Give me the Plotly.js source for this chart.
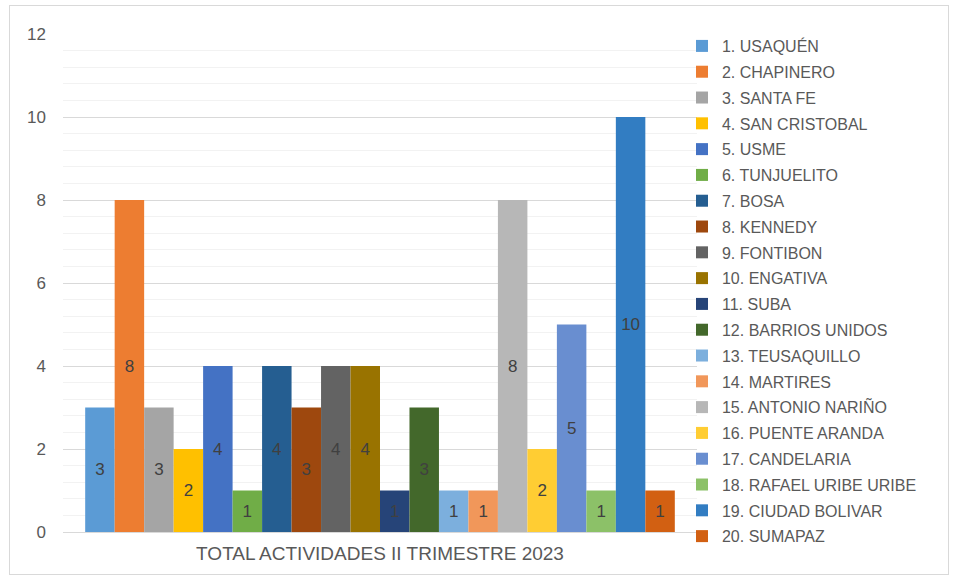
<!DOCTYPE html>
<html><head><meta charset="utf-8">
<script src="https://cdn.plot.ly/plotly-3.0.1.min.js"></script>
<style>
html,body{margin:0;padding:0;background:#fff;}
#frame{position:absolute;left:9px;top:5px;width:938px;height:568px;border:1px solid #d9d9d9;}
#chart{position:absolute;left:0;top:0;width:956px;height:578px;}
</style></head><body>
<div id="frame"></div>
<div id="chart"></div>
<script>
const category = ["TOTAL ACTIVIDADES II TRIMESTRE 2023"];
const localidades = ["1. USAQUÉN","2. CHAPINERO","3. SANTA FE","4. SAN CRISTOBAL","5. USME","6. TUNJUELITO","7. BOSA","8. KENNEDY","9. FONTIBON","10. ENGATIVA","11. SUBA","12. BARRIOS UNIDOS","13. TEUSAQUILLO","14. MARTIRES","15. ANTONIO NARIÑO","16. PUENTE ARANDA","17. CANDELARIA","18. RAFAEL URIBE URIBE","19. CIUDAD BOLIVAR","20. SUMAPAZ"];
const valores = [3,8,3,2,4,1,4,3,4,4,1,3,1,1,8,2,5,1,10,1];
const colores = ["#5B9BD5","#ED7D31","#A5A5A5","#FFC000","#4472C4","#70AD47","#255E91","#9E480E","#636363","#997300","#264478","#43682B","#7CAFDD","#F1975A","#B7B7B7","#FFCD33","#698ED0","#8CC168","#327DC2","#D26012"];

const traces = localidades.map((name,i)=>({
  type:'bar', name:name, x:category, y:[valores[i]],
  marker:{color:colores[i]}, legendgroup:'g'+i,
  text:[String(valores[i])], textposition:'inside', insidetextanchor:'middle',
  textfont:{family:'Liberation Sans, Arial, sans-serif', size:17, color:'#404040'},
  constraintext:'none', hoverinfo:'name+y'
}));

const layout = {
  width:956, height:578,
  margin:{l:63, r:259, t:34, b:46},
  paper_bgcolor:'rgba(0,0,0,0)', plot_bgcolor:'rgba(0,0,0,0)',
  barmode:'group', bargap:0.07, bargroupgap:0,
  font:{family:'Liberation Sans, Arial, sans-serif', color:'#595959'},
  xaxis:{showgrid:false, zeroline:false, showline:false, ticks:'',
    tickfont:{size:19, color:'#595959'}, ticklabelstandoff:8},
  yaxis:{range:[0,12], dtick:2, tickfont:{size:17,color:'#595959'},
    gridcolor:'#d9d9d9', gridwidth:1, zeroline:true, zerolinecolor:'#d9d9d9', zerolinewidth:1,
    ticklabelstandoff:16,
    minor:{dtick:0.4, showgrid:true, gridcolor:'#f2f2f2', gridwidth:1}},
  showlegend:true,
  legend:{x:0.9763, xanchor:'left', y:1.01, yanchor:'top', traceorder:'grouped', tracegroupgap:2,
    maxheight:578,
    font:{size:16, color:'#595959'}, itemwidth:30, bgcolor:'rgba(0,0,0,0)'}
};
Plotly.newPlot('chart', traces, layout, {displayModeBar:false, staticPlot:true});
</script></body></html>
